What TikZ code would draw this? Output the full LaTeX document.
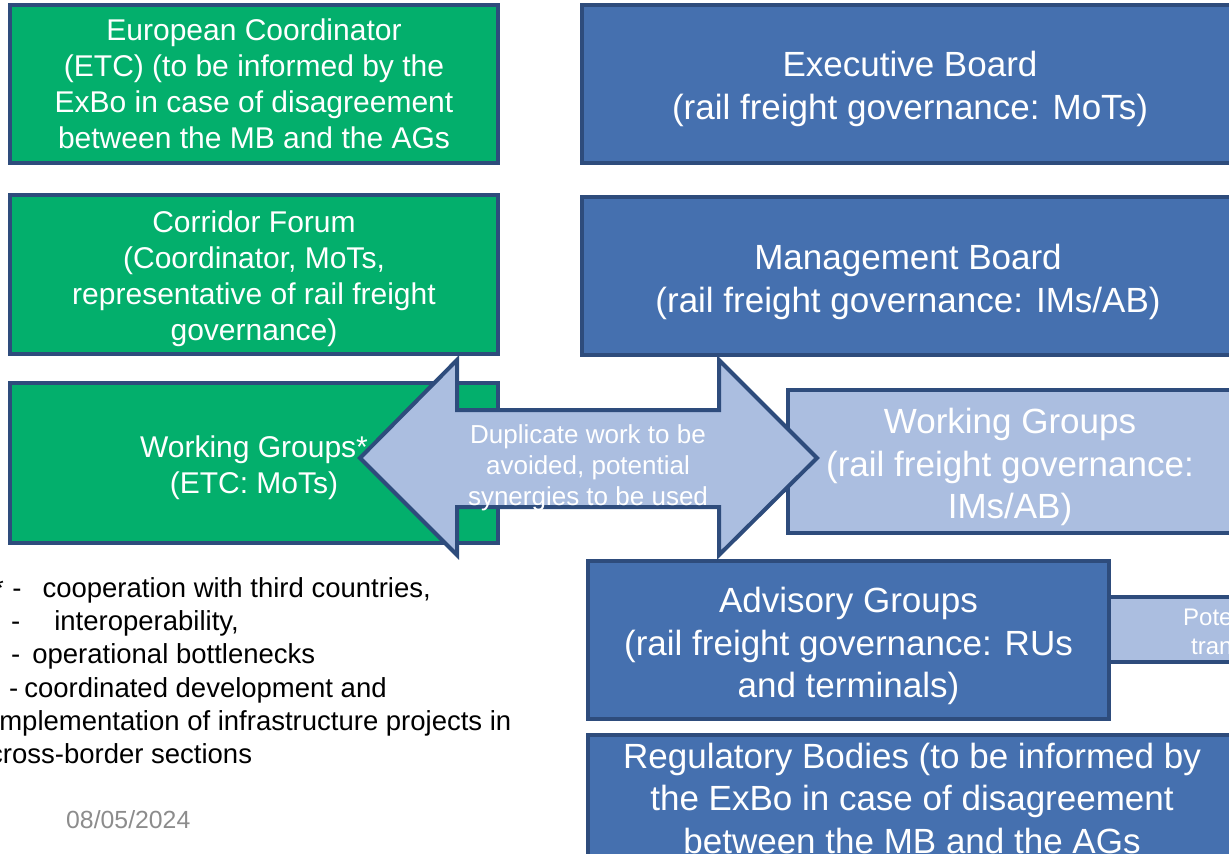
\documentclass[tikz,border=0pt]{standalone}
\usepackage{fontspec}
\setmainfont{Liberation Sans}
\definecolor{grn}{HTML}{03AF6C}
\definecolor{blu}{HTML}{4570AF}
\definecolor{bdr}{HTML}{2E4C7C}
\definecolor{lbl}{HTML}{ABBEE0}
\definecolor{dategray}{HTML}{8C8C8C}
\begin{document}
\begin{tikzpicture}[x=1pt,y=-1pt,
 box/.style={draw=bdr,line width=4pt,line join=miter,inner sep=0pt},
 gbox/.style={box,fill=grn},
 bbox/.style={box,fill=blu},
 lbox/.style={box,fill=lbl},
 gtxt/.style={text=white,align=center,inner sep=0pt,font=\fontsize{30}{36}\selectfont},
 btxt/.style={text=white,align=center,inner sep=0pt,font=\fontsize{35}{42.5}\selectfont},
 ntxt/.style={anchor=base west,inner sep=0pt,font=\fontsize{27.5}{33}\selectfont},
 ptxt/.style={anchor=base west,inner sep=0pt,text=white,font=\fontsize{24}{29}\selectfont},
]
\useasboundingbox (0,0) rectangle (1229,854);
% left green boxes
\node[gbox,minimum width=488,minimum height=158] (etc) at (254,84) {};
\node[gtxt] (etct) at (etc.center)
  {European Coordinator\\(ETC) (to be informed by the\\ExBo in case of disagreement\\between the MB and the AGs};
\node[gbox,minimum width=488,minimum height=159] (cf) at (254,274.5) {};
\node[gtxt] (cft) at ([yshift=-4pt]cf.center)
  {Corridor Forum\\(Coordinator, MoTs,\\representative of rail freight\\governance)};
\node[gbox,minimum width=488,minimum height=160] (wgl) at (254,463) {};
\node[gtxt] (wglt) at ([yshift=-5pt]wgl.center) {Working Groups*\\(ETC: MoTs)};
% right blue boxes
\node[bbox,minimum width=656,minimum height=158] (exbo) at (910,84) {};
\node[btxt] (exbot) at ([yshift=-5pt]exbo.center) {Executive Board\\(rail freight governance: MoTs)};
\node[bbox,minimum width=652,minimum height=158] (mb) at (908,276) {};
\node[btxt] (mbt) at ([yshift=-6pt]mb.center) {Management Board\\(rail freight governance: IMs/AB)};
\node[lbox,minimum width=444,minimum height=143] (wgr) at (1010,461.5) {};
\node[btxt] (wgrt) at ([yshift=-5.5pt]wgr.center) {Working Groups\\(rail freight governance:\\IMs/AB)};
\node[lbox,minimum width=191,minimum height=65] (pot) at (1204.5,629.5) {};
\node[ptxt] (pot1) at (1183,625) {Pote};
\node[ptxt] (pot2) at (1191,654) {tran};
\node[bbox,minimum width=521,minimum height=158] (ag) at (848.5,640) {};
\node[btxt] (agt) at ([yshift=-6pt]ag.center) {Advisory Groups\\(rail freight governance: RUs\\and terminals)};
\node[bbox,minimum width=648,minimum height=126] (rb) at (912,798) {};
\node[btxt] (rbt) at (rb.center) {Regulatory Bodies (to be informed by\\the ExBo in case of disagreement\\between the MB and the AGs};
% double arrow
\draw[box,fill=lbl] (360,458) -- (457,360) -- (457,410) -- (719,410) -- (719,360)
  -- (817,458) -- (719,555) -- (719,507) -- (457,507) -- (457,555) -- cycle;
\node[text=white,align=center,inner sep=0pt,font=\fontsize{26}{31}\selectfont] (dup) at (588,468)
  {Duplicate work to be\\avoided, potential\\synergies to be used};
% footnote
\node[ntxt] (f1) at (-7,597) {*\hspace{8.5pt}-\hspace{21pt}cooperation with third countries,};
\node[ntxt] (f2) at (11,630) {-\hspace{34pt}interoperability,};
\node[ntxt] (f3) at (11,663) {-\hspace{12pt}operational bottlenecks};
\node[ntxt] (f4) at (9,697) {-\hspace{6pt}coordinated development and};
\node[ntxt] (f5) at (-7,730) {implementation of infrastructure projects in};
\node[ntxt] (f6) at (-11,763) {cross-border sections};
\node[anchor=base west,inner sep=0pt,text=dategray,font=\fontsize{24.8}{29}\selectfont] (date) at (66,828) {08/05/2024};
\end{tikzpicture}
\end{document}
